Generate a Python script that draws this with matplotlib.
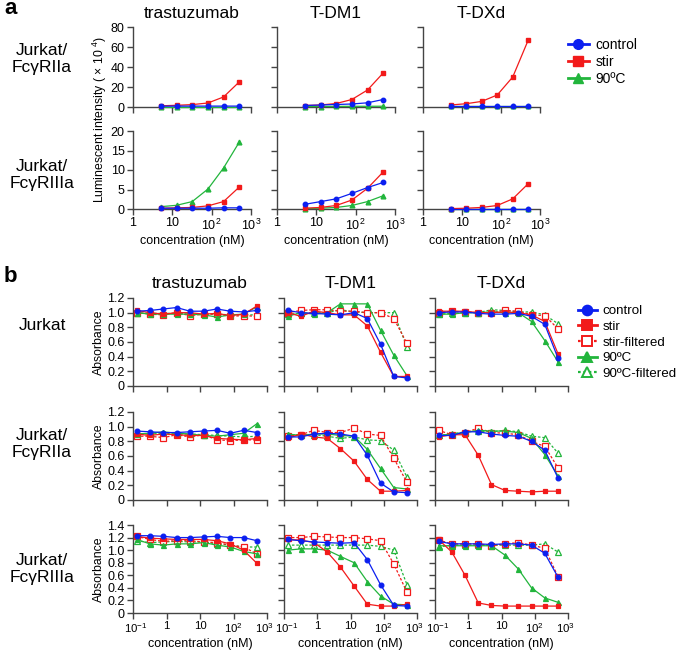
import matplotlib
matplotlib.use('Agg')
import matplotlib.pyplot as plt
from matplotlib.lines import Line2D
from matplotlib.transforms import ScaledTranslation

plt.rcParams['font.family'] = ['Liberation Sans', 'DejaVu Sans']
plt.rcParams['mathtext.fontset'] = 'custom'
plt.rcParams['mathtext.rm'] = 'Liberation Sans'
plt.rcParams['mathtext.it'] = 'Liberation Sans:italic'
plt.rcParams['mathtext.bf'] = 'Liberation Sans:bold'

# ---------------- data ----------------
conc_a = [5.12, 12.8, 32, 80, 200, 500]
conc_b = [0.128, 0.32, 0.8, 2, 5, 12.8, 32, 80, 200, 500]

drugs = ['trastuzumab', 'T-DM1', 'T-DXd']
rows_a = ['Jurkat/\nFcγRIIa', 'Jurkat/\nFcγRIIIa']
rows_b = ['Jurkat', 'Jurkat/\nFcγRIIa', 'Jurkat/\nFcγRIIIa']
legend_a = ['control', 'stir', '90ºC']
legend_b = ['control', 'stir', 'stir-filtered', '90ºC', '90ºC-filtered']

xticks_a = [1, 10, 100, 1000]
xticklabels_a = ['1', '10', r'$\mathregular{10^{2}}$', r'$\mathregular{10^{3}}$']
xticks_b = [0.1, 1, 10, 100, 1000]
xticklabels_b = [r'$\mathregular{10^{-1}}$', '1', '10', r'$\mathregular{10^{2}}$',
                 r'$\mathregular{10^{3}}$']

# panel a: luminescent intensity (x 10^4), Jurkat/FcγRIIa
a_IIa_tras_control = [0.8, 0.9, 0.9, 0.9, 0.9, 0.9]
a_IIa_tras_stir = [1.2, 1.7, 2.4, 4.0, 10.0, 25.0]
a_IIa_tras_90c = [0.3, 0.3, 0.3, 0.3, 0.3, 0.3]
a_IIa_tdm1_control = [1.5, 2.0, 2.5, 3.0, 4.2, 7.5]
a_IIa_tdm1_stir = [1.5, 2.0, 3.5, 7.5, 17.0, 34.0]
a_IIa_tdm1_90c = [0.5, 0.5, 0.6, 0.7, 0.7, 0.8]
a_IIa_tdxd_control = [1.5, 1.5, 1.5, 1.5, 1.5, 1.5]
a_IIa_tdxd_stir = [2.0, 3.3, 5.6, 12.0, 30.0, 67.0]
a_IIa_tdxd_90c = [0.6, 0.6, 0.6, 0.6, 0.6, 0.6]

# panel a: Jurkat/FcγRIIIa
a_IIIa_tras_control = [0.2, 0.2, 0.2, 0.2, 0.3, 0.3]
a_IIIa_tras_stir = [0.2, 0.3, 0.4, 0.8, 1.9, 5.6]
a_IIIa_tras_90c = [0.6, 0.95, 1.9, 5.1, 10.5, 17.1]
a_IIIa_tdm1_control = [1.2, 1.9, 2.6, 4.0, 5.5, 6.8]
a_IIIa_tdm1_stir = [0.2, 0.4, 0.9, 2.3, 5.3, 9.5]
a_IIIa_tdm1_90c = [0.1, 0.2, 0.4, 0.9, 1.9, 3.4]
a_IIIa_tdxd_control = [0.1, 0.1, 0.1, 0.1, 0.1, 0.1]
a_IIIa_tdxd_stir = [0.1, 0.2, 0.4, 0.9, 2.6, 6.5]
a_IIIa_tdxd_90c = [0.05, 0.05, 0.05, 0.05, 0.05, 0.05]

# panel b: absorbance, Jurkat
b_J_tras_control = [1.02, 1.03, 1.05, 1.07, 1.02, 1.02, 1.05, 1.02, 1.01, 1.03]
b_J_tras_stir = [1.03, 1.00, 0.98, 1.00, 1.00, 0.98, 0.99, 0.96, 0.98, 1.09]
b_J_tras_stirf = [1.00, 0.98, 0.97, 1.00, 0.96, 0.98, 0.98, 0.95, 0.96, 0.95]
b_J_tras_90c = [1.00, 0.98, 0.98, 0.98, 0.98, 0.97, 0.94, 0.97, 0.98, 1.08]
b_J_tras_90cf = [1.00, 0.99, 0.99, 0.99, 0.98, 0.98, 0.98, 0.97, 0.97, 0.97]
b_J_tdm1_control = [1.03, 1.00, 0.99, 0.98, 0.97, 1.00, 0.92, 0.57, 0.13, 0.11]
b_J_tdm1_stir = [1.00, 0.95, 1.02, 1.00, 0.97, 0.97, 0.82, 0.46, 0.13, 0.13]
b_J_tdm1_stirf = [1.00, 1.03, 1.04, 1.04, 1.02, 1.02, 1.00, 1.00, 0.92, 0.58]
b_J_tdm1_90c = [0.95, 1.00, 0.98, 1.00, 1.12, 1.12, 1.12, 0.76, 0.42, 0.14]
b_J_tdm1_90cf = [0.98, 0.99, 1.00, 1.00, 1.04, 1.01, 1.00, 1.00, 1.00, 0.53]
b_J_tdxd_control = [1.00, 1.01, 1.01, 0.99, 0.98, 0.98, 0.99, 0.95, 0.84, 0.38]
b_J_tdxd_stir = [1.02, 1.02, 1.02, 1.00, 1.00, 1.01, 1.00, 0.97, 0.88, 0.44]
b_J_tdxd_stirf = [1.00, 1.02, 1.01, 1.00, 1.00, 1.03, 1.02, 0.97, 0.96, 0.78]
b_J_tdxd_90c = [0.98, 0.98, 1.00, 1.00, 1.01, 1.00, 1.00, 0.88, 0.62, 0.33]
b_J_tdxd_90cf = [0.98, 0.99, 1.00, 1.00, 1.04, 1.03, 1.01, 1.01, 0.97, 0.85]

# panel b: Jurkat/FcγRIIa
b_IIa_tras_control = [0.94, 0.93, 0.92, 0.92, 0.93, 0.94, 0.95, 0.91, 0.95, 0.92]
b_IIa_tras_stir = [0.90, 0.88, 0.90, 0.89, 0.88, 0.88, 0.84, 0.83, 0.82, 0.84]
b_IIa_tras_stirf = [0.87, 0.87, 0.85, 0.89, 0.86, 0.89, 0.82, 0.81, 0.82, 0.82]
b_IIa_tras_90c = [0.90, 0.91, 0.93, 0.91, 0.90, 0.88, 0.87, 0.89, 0.91, 1.04]
b_IIa_tras_90cf = [0.90, 0.90, 0.91, 0.90, 0.90, 0.89, 0.88, 0.87, 0.86, 0.87]
b_IIa_tdm1_control = [0.86, 0.86, 0.90, 0.91, 0.90, 0.87, 0.61, 0.23, 0.11, 0.10]
b_IIa_tdm1_stir = [0.84, 0.90, 0.86, 0.84, 0.70, 0.53, 0.28, 0.12, 0.12, 0.13]
b_IIa_tdm1_stirf = [0.87, 0.89, 0.95, 0.92, 0.92, 0.98, 0.90, 0.88, 0.57, 0.24]
b_IIa_tdm1_90c = [0.90, 0.88, 0.90, 0.90, 0.88, 0.87, 0.69, 0.43, 0.17, 0.15]
b_IIa_tdm1_90cf = [0.89, 0.89, 0.89, 0.87, 0.84, 0.86, 0.82, 0.81, 0.68, 0.31]
b_IIa_tdxd_control = [0.88, 0.88, 0.93, 0.93, 0.90, 0.88, 0.87, 0.80, 0.68, 0.30]
b_IIa_tdxd_stir = [0.86, 0.89, 0.89, 0.61, 0.21, 0.13, 0.12, 0.11, 0.12, 0.12]
b_IIa_tdxd_stirf = [0.95, 0.89, 0.92, 0.98, 0.92, 0.91, 0.89, 0.80, 0.73, 0.44]
b_IIa_tdxd_90c = [0.88, 0.90, 0.92, 0.95, 0.94, 0.94, 0.92, 0.84, 0.62, 0.33]
b_IIa_tdxd_90cf = [0.88, 0.90, 0.93, 0.94, 0.93, 0.95, 0.93, 0.87, 0.85, 0.64]

# panel b: Jurkat/FcγRIIIa
b_IIIa_tras_control = [1.23, 1.23, 1.22, 1.20, 1.20, 1.21, 1.22, 1.20, 1.20, 1.15]
b_IIIa_tras_stir = [1.22, 1.19, 1.18, 1.17, 1.17, 1.17, 1.15, 1.10, 1.00, 0.79]
b_IIIa_tras_stirf = [1.22, 1.17, 1.14, 1.15, 1.15, 1.13, 1.12, 1.08, 1.05, 0.94]
b_IIIa_tras_90c = [1.17, 1.10, 1.08, 1.10, 1.10, 1.12, 1.08, 1.05, 0.98, 0.94]
b_IIIa_tras_90cf = [1.15, 1.12, 1.13, 1.14, 1.13, 1.13, 1.10, 1.08, 1.05, 1.05]
b_IIIa_tdm1_control = [1.17, 1.15, 1.13, 1.12, 1.11, 1.12, 0.85, 0.45, 0.12, 0.11]
b_IIIa_tdm1_stir = [1.17, 1.16, 1.12, 0.97, 0.73, 0.43, 0.14, 0.11, 0.11, 0.14]
b_IIIa_tdm1_stirf = [1.20, 1.20, 1.22, 1.21, 1.20, 1.20, 1.18, 1.15, 0.78, 0.33]
b_IIIa_tdm1_90c = [1.00, 1.02, 1.02, 1.00, 0.90, 0.80, 0.50, 0.27, 0.14, 0.13]
b_IIIa_tdm1_90cf = [1.08, 1.08, 1.08, 1.08, 1.08, 1.08, 1.08, 1.06, 1.00, 0.45]
b_IIIa_tdxd_control = [1.14, 1.10, 1.10, 1.10, 1.09, 1.10, 1.10, 1.08, 0.95, 0.57]
b_IIIa_tdxd_stir = [1.17, 0.97, 0.60, 0.16, 0.12, 0.11, 0.11, 0.11, 0.11, 0.11]
b_IIIa_tdxd_stirf = [1.16, 1.10, 1.10, 1.10, 1.07, 1.10, 1.12, 1.08, 1.03, 0.58]
b_IIIa_tdxd_90c = [1.07, 1.07, 1.07, 1.07, 1.07, 0.92, 0.70, 0.40, 0.24, 0.17]
b_IIIa_tdxd_90cf = [1.05, 1.08, 1.08, 1.08, 1.08, 1.08, 1.08, 1.08, 1.10, 0.97]

# ---------------- assembly ----------------
panel_a = [
    [[a_IIa_tras_control, a_IIa_tras_stir, a_IIa_tras_90c],
     [a_IIa_tdm1_control, a_IIa_tdm1_stir, a_IIa_tdm1_90c],
     [a_IIa_tdxd_control, a_IIa_tdxd_stir, a_IIa_tdxd_90c]],
    [[a_IIIa_tras_control, a_IIIa_tras_stir, a_IIIa_tras_90c],
     [a_IIIa_tdm1_control, a_IIIa_tdm1_stir, a_IIIa_tdm1_90c],
     [a_IIIa_tdxd_control, a_IIIa_tdxd_stir, a_IIIa_tdxd_90c]],
]
panel_b = [
    [[b_J_tras_control, b_J_tras_stir, b_J_tras_stirf, b_J_tras_90c, b_J_tras_90cf],
     [b_J_tdm1_control, b_J_tdm1_stir, b_J_tdm1_stirf, b_J_tdm1_90c, b_J_tdm1_90cf],
     [b_J_tdxd_control, b_J_tdxd_stir, b_J_tdxd_stirf, b_J_tdxd_90c, b_J_tdxd_90cf]],
    [[b_IIa_tras_control, b_IIa_tras_stir, b_IIa_tras_stirf, b_IIa_tras_90c, b_IIa_tras_90cf],
     [b_IIa_tdm1_control, b_IIa_tdm1_stir, b_IIa_tdm1_stirf, b_IIa_tdm1_90c, b_IIa_tdm1_90cf],
     [b_IIa_tdxd_control, b_IIa_tdxd_stir, b_IIa_tdxd_stirf, b_IIa_tdxd_90c, b_IIa_tdxd_90cf]],
    [[b_IIIa_tras_control, b_IIIa_tras_stir, b_IIIa_tras_stirf, b_IIIa_tras_90c, b_IIIa_tras_90cf],
     [b_IIIa_tdm1_control, b_IIIa_tdm1_stir, b_IIIa_tdm1_stirf, b_IIIa_tdm1_90c, b_IIIa_tdm1_90cf],
     [b_IIIa_tdxd_control, b_IIIa_tdxd_stir, b_IIIa_tdxd_stirf, b_IIIa_tdxd_90c, b_IIIa_tdxd_90cf]],
]

# ---------------- styles ----------------
BLUE = '#0b1ff0'
RED = '#f21a1a'
GREEN = '#22b53c'
SPINE = '#444444'

style_a = [
    dict(color=BLUE, marker='o', ms=3.2, mfc=BLUE, ls='-'),
    dict(color=RED, marker='s', ms=3.2, mfc=RED, ls='-'),
    dict(color=GREEN, marker='^', ms=3.4, mfc=GREEN, ls='-'),
]
style_b = [
    dict(color=BLUE, marker='o', ms=3.4, mfc=BLUE, ls='-'),
    dict(color=RED, marker='s', ms=3.4, mfc=RED, ls='-'),
    dict(color=RED, marker='s', ms=4.0, mfc='white', ls=(0, (2, 1.5))),
    dict(color=GREEN, marker='^', ms=3.6, mfc=GREEN, ls='-'),
    dict(color=GREEN, marker='^', ms=4.2, mfc='white', ls=(0, (2, 1.5))),
]
draw_order_b = [4, 2, 3, 1, 0]

W, H = 677, 650
fig = plt.figure(figsize=(W / 100, H / 100), dpi=100)

TICK_FS = 9
XTICK_B_FS = 8.2
TITLE_FS = 12.5
ROW_FS = 12.5


def px_axes(x0, x1, ytop, ybot):
    return fig.add_axes([x0 / W, 1 - ybot / H, (x1 - x0) / W, (ybot - ytop) / H])


def style_axis(ax):
    for s in ['top', 'right']:
        ax.spines[s].set_visible(False)
    for s in ['left', 'bottom']:
        ax.spines[s].set_color(SPINE)
        ax.spines[s].set_linewidth(1.0)
    ax.tick_params(direction='out', length=4, width=1.0, color=SPINE,
                   labelsize=TICK_FS, pad=2)


# ---- panel a ----
cols_a = [(133, 251), (277, 395), (423, 540)]
rows_a_px = [(27, 107), (131, 209)]
ylims_a = [(0, 80), (0, 20)]
yticks_a = [[0, 20, 40, 60, 80], [0, 5, 10, 15, 20]]

for r, (yt, yb) in enumerate(rows_a_px):
    for c, (x0, x1) in enumerate(cols_a):
        ax = px_axes(x0, x1, yt, yb)
        style_axis(ax)
        ax.set_xscale('log')
        ax.set_xlim(1, 1000)
        ax.set_ylim(*ylims_a[r])
        ax.set_yticks(yticks_a[r])
        ax.set_xticks(xticks_a)
        ax.minorticks_off()
        if r == 1:
            ax.set_xticklabels(xticklabels_a)
            ax.set_xlabel('concentration (nM)', fontsize=TICK_FS, labelpad=2)
        else:
            ax.set_xticklabels([])
        if c != 0:
            ax.set_yticklabels([])
        series = panel_a[r][c]
        for k in [2, 1, 0]:
            st = style_a[k]
            ax.plot(conc_a, series[k], color=st['color'], ls=st['ls'], lw=0.9,
                    marker=st['marker'], ms=st['ms'], mfc=st['mfc'], mec=st['color'],
                    clip_on=False, zorder=3 + (2 - k))

for c, (x0, x1) in enumerate(cols_a):
    fig.text((x0 + x1) / 2 / W, 1 - 13 / H, drugs[c], ha='center', va='center',
             fontsize=TITLE_FS)
for r, yc in enumerate([59, 175]):
    fig.text(42 / W, 1 - yc / H, rows_a[r], ha='center', va='center',
             fontsize=ROW_FS, linespacing=1.15)

fig.text(100 / W, 1 - 120 / H, r'Luminescent intensity ( × 10 $\mathregular{^{4}}$)',
         rotation=90, ha='center', va='center', fontsize=8.8)

fig.text(4 / W, 1 - 9 / H, 'a', ha='left', va='center', fontsize=16, fontweight='bold')
fig.text(4 / W, 1 - 277 / H, 'b', ha='left', va='center', fontsize=16, fontweight='bold')

handles_a = [Line2D([], [], color=s['color'], marker=s['marker'], ms=7, lw=2,
                    mfc=s['mfc'], mec=s['color']) for s in style_a]
fig.legend(handles_a, legend_a, loc='upper left', bbox_to_anchor=(568 / W, 1 - 38 / H),
           frameon=False, fontsize=10, handlelength=1.5, handletextpad=0.5,
           labelspacing=0.22, borderaxespad=0, borderpad=0)

# ---- panel b ----
cols_b = [(133, 267), (284, 417), (435, 568)]
rows_b_px = [(298, 386), (412, 500), (525, 613)]
ylims_b = [(0, 1.2), (0, 1.2), (0, 1.4)]
yticks_b = [[0, 0.2, 0.4, 0.6, 0.8, 1.0, 1.2], [0, 0.2, 0.4, 0.6, 0.8, 1.0, 1.2],
            [0, 0.2, 0.4, 0.6, 0.8, 1.0, 1.2, 1.4]]

for r, (yt, yb) in enumerate(rows_b_px):
    for c, (x0, x1) in enumerate(cols_b):
        ax = px_axes(x0, x1, yt, yb)
        style_axis(ax)
        ax.set_xscale('log')
        ax.set_xlim(0.1, 1000)
        ax.set_ylim(*ylims_b[r])
        ax.set_yticks(yticks_b[r])
        ax.set_xticks(xticks_b)
        ax.minorticks_off()
        if r == 2:
            labels = ax.set_xticklabels(xticklabels_b, fontsize=XTICK_B_FS)
            labels[0].set_transform(labels[0].get_transform() +
                                    ScaledTranslation(2.5 / 100, 0, fig.dpi_scale_trans))
            labels[-1].set_transform(labels[-1].get_transform() +
                                     ScaledTranslation(-2.5 / 100, 0, fig.dpi_scale_trans))
            ax.set_xlabel('concentration (nM)', fontsize=TICK_FS, labelpad=2)
        else:
            ax.set_xticklabels([])
        if c == 0:
            ax.set_yticklabels(['0' if v == 0 else f'{v:.1f}' for v in yticks_b[r]])
            ax.set_ylabel('Absorbance', fontsize=8.8, labelpad=2)
        else:
            ax.set_yticklabels([])
        series = panel_b[r][c]
        for z, k in enumerate(draw_order_b):
            st = style_b[k]
            ax.plot(conc_b, series[k], color=st['color'], ls=st['ls'], lw=0.9,
                    marker=st['marker'], ms=st['ms'], mfc=st['mfc'], mec=st['color'],
                    mew=0.9, clip_on=False, zorder=3 + z)

for c, (x0, x1) in enumerate(cols_b):
    fig.text((x0 + x1) / 2 / W, 1 - 283 / H, drugs[c], ha='center', va='center',
             fontsize=TITLE_FS)
for r, yc in enumerate([326, 444, 569]):
    fig.text(42 / W, 1 - yc / H, rows_b[r], ha='center', va='center',
             fontsize=ROW_FS, linespacing=1.15)

handles_b = [Line2D([], [], color=s['color'], marker=s['marker'], ms=7,
                    lw=2 if s['ls'] == '-' else 1.6,
                    ls=s['ls'] if s['ls'] == '-' else (0, (1.2, 1.2)),
                    mfc=s['mfc'], mec=s['color'], mew=1.4) for s in style_b]
fig.legend(handles_b, legend_b, loc='upper left', bbox_to_anchor=(578 / W, 1 - 305 / H),
           frameon=False, fontsize=9.6, handlelength=1.4, handletextpad=0.45,
           labelspacing=0.25, borderaxespad=0, borderpad=0)

fig.savefig('out.png', dpi=100)
